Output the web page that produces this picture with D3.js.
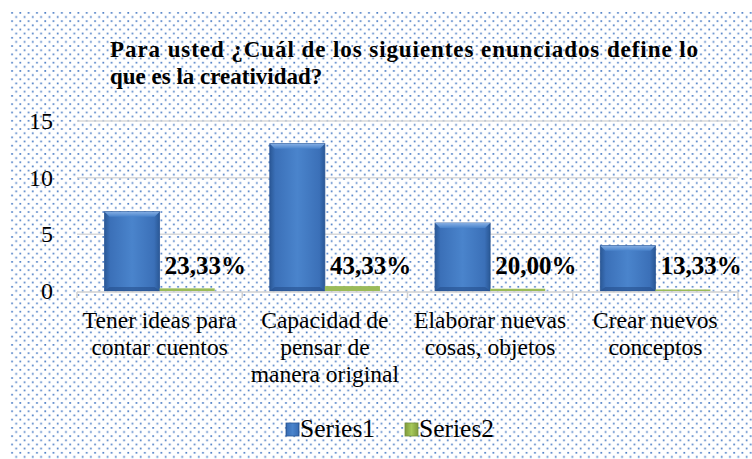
<!DOCTYPE html>
<html><head><meta charset="utf-8">
<script src="https://cdn.jsdelivr.net/npm/d3@7/dist/d3.min.js"></script>
<style>
html,body{margin:0;padding:0;background:#fff;}
svg{display:block;}
</style></head>
<body>
<svg id="chart" width="752" height="459"></svg>
<script>
const categories = [
  ["Tener ideas para", "contar cuentos"],
  ["Capacidad de", "pensar de", "manera original"],
  ["Elaborar nuevas", "cosas, objetos"],
  ["Crear nuevos", "conceptos"]
];
const series1 = [7, 13, 6, 4];
const series2 = [0.2333, 0.4333, 0.2, 0.1333];
const series2Labels = ["23,33%", "43,33%", "20,00%", "13,33%"];
const yTicks = [0, 5, 10, 15];
const seriesNames = ["Series1", "Series2"];
const titleLines = ["Para usted ¿Cuál de los siguientes enunciados define lo", "que es la creatividad?"];

const ctx = document.createElement("canvas").getContext("2d");
function w(f) { ctx.font = "40px " + f; return ctx.measureText("mmmwwwlliiTQ¿123,%").width; }
const candidates = ["Liberation Serif", "Times New Roman", "Tinos", "DejaVu Serif", "Noto Serif", "FreeSerif", "Nimbus Roman"];
let FONT = "serif";
for (const c of candidates) {
  if (w(`"${c}", monospace`) !== w("monospace") || w(`"${c}", sans-serif`) !== w("sans-serif")) { FONT = `"${c}", serif`; break; }
}

const svg = d3.select("#chart").style("font-family", FONT);
const defs = svg.append("defs");

const pat = defs.append("pattern").attr("id", "dots").attr("patternUnits", "userSpaceOnUse")
  .attr("width", 8.3).attr("height", 8.3).attr("x", 10).attr("y", 12);
pat.append("rect").attr("width", 8.3).attr("height", 8.3).attr("fill", "#fff");
pat.append("rect").attr("x", 1.2).attr("y", 0).attr("width", 1.7).attr("height", 1.7).attr("fill", "#4f7fc6");
pat.append("rect").attr("x", 5.35).attr("y", 4.15).attr("width", 1.7).attr("height", 1.7).attr("fill", "#4f7fc6");

svg.append("rect").attr("x", 10).attr("y", 12).attr("width", 742).attr("height", 447).attr("fill", "url(#dots)");

function hGrad(id, stops) {
  const g = defs.append("linearGradient").attr("id", id).attr("x1", "0").attr("x2", "1").attr("y1", "0").attr("y2", "0");
  stops.forEach(s => g.append("stop").attr("offset", s[0]).attr("stop-color", s[1]));
}
hGrad("blueG", [[0, "#2a5896"], [0.1, "#3b70b8"], [0.5, "#4a84cc"], [0.9, "#3b70b8"], [1, "#2a5896"]]);
hGrad("greenG", [[0, "#7f9a3c"], [0.5, "#a6c95a"], [1, "#7f9a3c"]]);
const vG = defs.append("linearGradient").attr("id", "blueTop").attr("x1", "0").attr("x2", "0").attr("y1", "0").attr("y2", "1");
vG.append("stop").attr("offset", 0).attr("stop-color", "#8cb4e8");
vG.append("stop").attr("offset", 1).attr("stop-color", "#4a84cc");

const x0 = 77, x1 = 738;
const x = d3.scaleBand().domain(d3.range(categories.length)).range([x0, x1]).padding(0);
const y = d3.scaleLinear().domain([0, 15]).range([291, 121]);
const bw = x.bandwidth();
const barW = bw / 3;
const gap = (bw - 2 * barW) / 2;

svg.append("g").selectAll("line").data(yTicks.filter(t => t > 0)).join("line")
  .attr("x1", x0).attr("x2", x1).attr("y1", d => y(d)).attr("y2", d => y(d))
  .attr("stroke", "#d9d9d9").attr("stroke-width", 1.5);

svg.append("g").selectAll("text").data(yTicks).join("text")
  .attr("x", 53).attr("y", d => y(d) + 8).attr("text-anchor", "end")
  .attr("font-size", 24).attr("fill", "#000").text(d => d);

const g1 = svg.append("g");
series1.forEach((v, i) => {
  const bx = x(i) + gap, by = y(v), bh = y(0) - y(v);
  g1.append("rect").attr("x", bx).attr("y", by).attr("width", barW).attr("height", bh).attr("fill", "url(#blueG)")
    .attr("stroke", "#2b5797").attr("stroke-width", 0.8);
  g1.append("path").attr("d", `M${bx},${by} L${bx + barW},${by} L${bx + barW - 5},${by + 5} L${bx + 5},${by + 5} Z`)
    .attr("fill", "url(#blueTop)").attr("opacity", 0.9);
  g1.append("path").attr("d", `M${bx},${by + bh} L${bx + barW},${by + bh} L${bx + barW - 5},${by + bh - 4} L${bx + 5},${by + bh - 4} Z`)
    .attr("fill", "#244f8c").attr("opacity", 0.6);
});

svg.append("g").selectAll("rect").data(series2).join("rect")
  .attr("x", (d, i) => x(i) + gap + barW).attr("y", d => y(d))
  .attr("width", barW).attr("height", d => y(0) - y(d)).attr("fill", "#9bbb59");

svg.append("line").attr("x1", x0).attr("x2", x1).attr("y1", y(0) + 1).attr("y2", y(0) + 1)
  .attr("stroke", "#d0d0d0").attr("stroke-width", 1.5);
svg.append("g").selectAll("line").data(d3.range(categories.length + 1)).join("line")
  .attr("x1", d => x0 + d * bw).attr("x2", d => x0 + d * bw)
  .attr("y1", y(0) + 1).attr("y2", y(0) + 7).attr("stroke", "#d0d0d0").attr("stroke-width", 1.5);

svg.append("g").selectAll("text").data(series2Labels).join("text")
  .attr("x", (d, i) => x(i) + gap + barW + 5).attr("y", 274)
  .attr("font-size", 25).attr("font-weight", "bold").attr("fill", "#000").text(d => d);

const cg = svg.append("g");
categories.forEach((lines, i) => {
  const t = cg.append("text").attr("x", x(i) + bw / 2).attr("y", 328).attr("text-anchor", "middle")
    .attr("font-size", 23.5).attr("fill", "#000");
  lines.forEach((l, j) => t.append("tspan").attr("x", x(i) + bw / 2).attr("dy", j === 0 ? 0 : 27).text(l));
});

svg.append("text").attr("x", 110).attr("y", 57).attr("font-size", 23).attr("font-weight", "bold")
  .attr("textLength", 588).attr("lengthAdjust", "spacing").text(titleLines[0]);
svg.append("text").attr("x", 110).attr("y", 84).attr("font-size", 23).attr("font-weight", "bold").text(titleLines[1]);

const legend = [
  {name: seriesNames[0], sx: 286, tx: 300, fill: "url(#blueG)", stroke: "#2b5797"},
  {name: seriesNames[1], sx: 405, tx: 419, fill: "url(#greenG)", stroke: "#76923c"}
];
const lg = svg.append("g");
legend.forEach(l => {
  lg.append("rect").attr("x", l.sx).attr("y", 423).attr("width", 13).attr("height", 13)
    .attr("fill", l.fill).attr("stroke", l.stroke).attr("stroke-width", 0.8);
  lg.append("text").attr("x", l.tx).attr("y", 437).attr("font-size", 25.5).attr("fill", "#000").text(l.name);
});
</script>
</body></html>
